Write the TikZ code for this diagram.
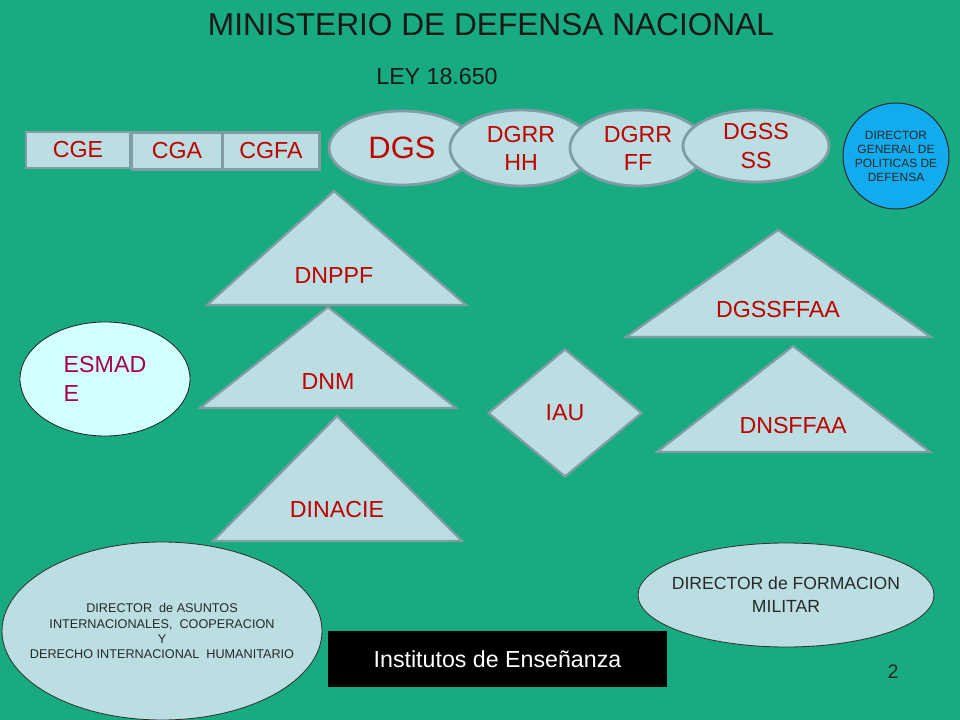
\documentclass[tikz,border=0pt]{standalone}
\usepackage{fontspec}
\setmainfont{Liberation Sans}
\usetikzlibrary{shapes.geometric}
\definecolor{fondo}{RGB}{24,170,128}
\definecolor{celeste}{RGB}{186,222,226}
\definecolor{borde}{RGB}{128,156,164}
\definecolor{rojo}{RGB}{192,0,0}
\definecolor{azul}{RGB}{18,172,238}
\definecolor{cian}{RGB}{210,255,255}
\definecolor{grisosc}{RGB}{40,40,40}
\definecolor{granate}{RGB}{168,0,72}
\newdimen\pix
\pix=0.025cm
\tikzstyle{caja}=[rectangle, fill=celeste, draw=borde, line width=2pt, inner sep=0pt, anchor=center, text=rojo, font=\fontsize{16.5}{19}\selectfont]
\tikzstyle{elip}=[ellipse, fill=celeste, draw=borde, line width=2pt, inner sep=0pt, align=center, text=rojo, font=\fontsize{16.5}{20}\selectfont]
\tikzstyle{tri}=[fill=celeste, draw=borde, line width=1.6pt]
\tikzstyle{rotulo}=[text=rojo, font=\fontsize{16.5}{19}\selectfont]
\tikzstyle{nota}=[ellipse, fill=celeste, draw=black!80, line width=0.6pt, inner sep=0pt]
\tikzstyle{notatxt}=[align=center, text=grisosc, inner sep=0pt]
\newcommand{\triangulo}[7]
{
  \draw[tri] (#1,#2) -- (#4,#5) -- (#3,#5) -- cycle;
  \node[rotulo] (#6) at (#1,#7) {#6};
}

\begin{document}
\begin{tikzpicture}[x=0.025cm, y=-0.025cm]
	\useasboundingbox (0,0) rectangle (960,720);
	\fill[fondo] (0,0) rectangle (960,720);

	\node[font=\fontsize{22.5}{26}\selectfont, text=black!90] (titulo) at (491,25) {MINISTERIO DE DEFENSA NACIONAL};
	\node[font=\fontsize{16.5}{19}\selectfont, text=black!90] (ley) at (437,77) {LEY 18.650};

	\node[caja, minimum width=104\pix, minimum height=36\pix] (cge) at (78,150) {CGE};
	\node[caja, minimum width=90\pix, minimum height=37\pix] (cga) at (177,151) {CGA};
	\node[caja, minimum width=97\pix, minimum height=37\pix] (cgfa) at (271,151) {CGFA};

	\node[elip, minimum width=146\pix, minimum height=74\pix, font=\fontsize{22}{24}\selectfont] (dgs) at (402,148) {DGS};
	\node[elip, minimum width=142\pix, minimum height=76\pix] (dgrrhh) at (521,148) {DGRR\\HH};
	\node[elip, minimum width=136\pix, minimum height=76\pix] (dgrrff) at (638,148) {DGRR\\FF};
	\node[elip, minimum width=146\pix, minimum height=72\pix] (dgssss) at (756,146) {DGSS\\SS};

	\node[circle, fill=azul, draw=black!85, line width=0.7pt, minimum size=106\pix, inner sep=0pt, align=center, text=grisosc, font=\fontsize{8.5}{10}\selectfont] (politicas) at (896,156) {DIRECTOR\\GENERAL DE\\POLITICAS DE\\DEFENSA};

	\triangulo{334}{191}{207}{466}{305}{DNPPF}{276}
	\triangulo{328}{307}{200}{456}{408}{DNM}{382}
	\triangulo{337}{416}{213}{462}{541}{DINACIE}{510}
	\triangulo{778}{230}{626}{931}{337}{DGSSFFAA}{310}
	\triangulo{793}{346}{657}{930}{452}{DNSFFAA}{426}

	\node[ellipse, fill=cian, draw=black!85, line width=0.6pt, minimum width=170\pix, minimum height=114\pix, inner sep=0pt, align=left, text=granate, font=\fontsize{16.5}{20.5}\selectfont] (esmade) at (105,379) {ESMAD\\E};

	\node[diamond, tri, minimum width=154\pix, minimum height=128\pix, inner sep=0pt, text=rojo, font=\fontsize{16.5}{19}\selectfont] (iau) at (565,413) {IAU};

	\node[nota, minimum width=320\pix, minimum height=178\pix] (asuntos) at (162,631) {};
	\node[notatxt, font=\fontsize{9}{10.7}\selectfont] (asuntostxt) at (asuntos.center) {DIRECTOR\ \ de ASUNTOS\\INTERNACIONALES,\ \ COOPERACION\\Y\\DERECHO INTERNACIONAL\ \ HUMANITARIO};
	\node[nota, minimum width=296\pix, minimum height=104\pix] (formacion) at (786,595) {};
	\node[notatxt, font=\fontsize{12.5}{16.4}\selectfont] (formaciontxt) at (formacion.center) {DIRECTOR de FORMACION\\MILITAR};

	\node[rectangle, fill=black, minimum width=339\pix, minimum height=56\pix, inner sep=0pt, text=white, font=\fontsize{16.5}{19}\selectfont] (institutos) at (497.5,659) {Institutos de Enseñanza};
	\node[text=grisosc, font=\fontsize{14}{16}\selectfont] (pagina) at (893,672) {2};
\end{tikzpicture}
\end{document}
